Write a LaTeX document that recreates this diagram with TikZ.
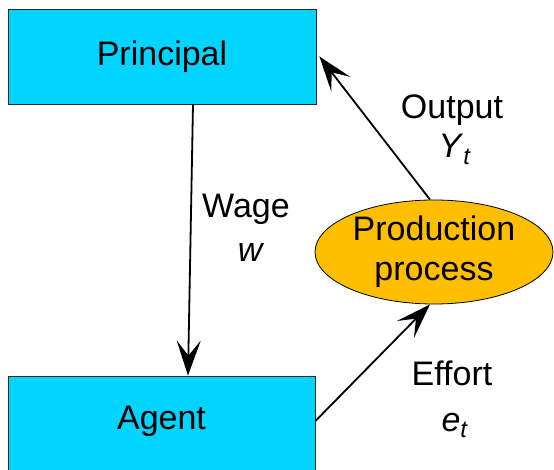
\documentclass[tikz,border=0pt]{standalone}
\usepackage{fontspec}
\setmainfont{Liberation Sans}
\usetikzlibrary{shapes.geometric,arrows.meta,calc}

\definecolor{boxcyan}{HTML}{00D4FF}
\definecolor{procgold}{HTML}{FFBF00}

\begin{document}
\begin{tikzpicture}[x=1pt,y=-1pt,
  txt/.style={font=\fontsize{34}{40}\selectfont},
  actor/.style={draw=black!85,line width=0.8pt,fill=boxcyan,rectangle,inner sep=0pt},
  proc/.style={draw=black,line width=0.8pt,fill=procgold,ellipse,inner sep=0pt,
    minimum width=238pt,minimum height=104pt,align=center,txt},
  flow/.style={draw=black,line width=1.8pt,-{Stealth[length=35pt,width=24pt,inset=15pt]}},
  lbl/.style={txt,anchor=base,inner sep=0pt}]
\useasboundingbox (0,0) rectangle (554,470);

% the two parties
\node[actor,minimum width=308pt,minimum height=95pt,txt] (principal) at (162,56.5) {Principal};
\node[actor,minimum width=307pt,minimum height=100pt,
      label={[txt,yshift=5pt]center:Agent}] (agent) at (161.5,426) {};

% production process
\node[proc] (prod) at (434,252) {Production\\process};

% flows
\draw[flow] ([xshift=31pt]principal.south) -- ([xshift=26.5pt]agent.north);
\draw[flow] ([xshift=-4pt]prod.north) -- ([xshift=3pt]principal.east);
\draw[flow] ([yshift=5pt]agent.east) -- ([xshift=-4pt]prod.south);

% flow labels
\node[lbl] (wage) at (246,218) {Wage};
\node[lbl] (wagesym) at (251,262) {\textit{w}};
\node[lbl] (output) at (452,119) {Output};
\node[lbl] (outputsym) at (455,158) {\textit{Y}\textsubscript{\textit{t}}};
\node[lbl] (effort) at (452,385) {Effort};
\node[lbl] (effortsym) at (455,431) {\textit{e}\textsubscript{\textit{t}}};
\end{tikzpicture}
\end{document}
